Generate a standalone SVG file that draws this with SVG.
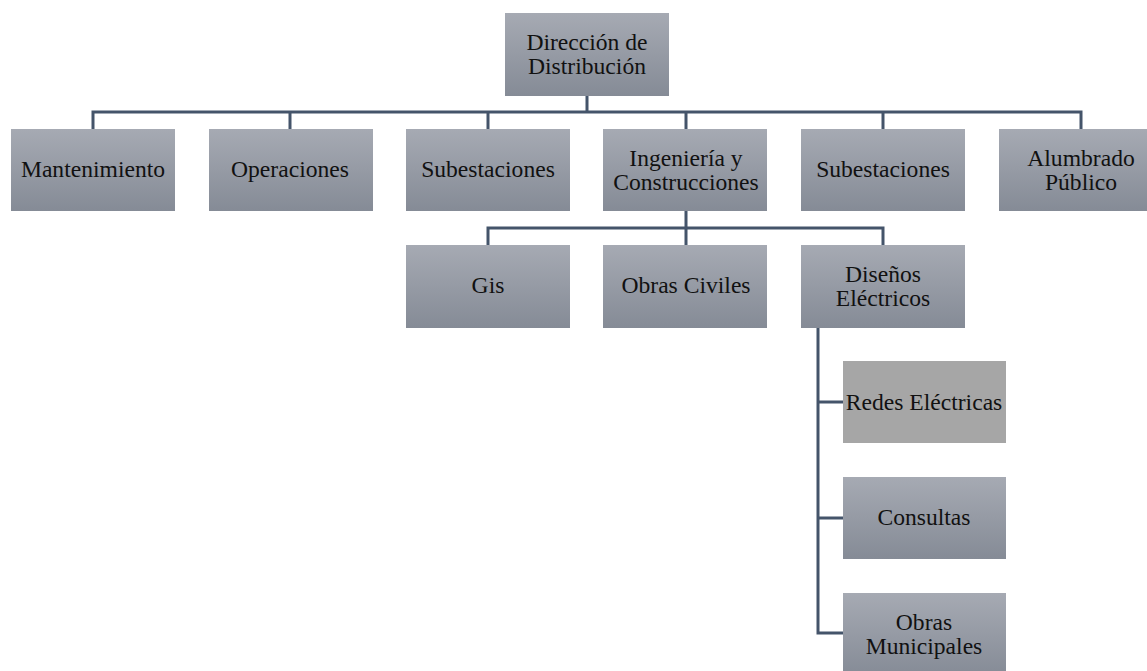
<svg xmlns="http://www.w3.org/2000/svg" width="1147" height="671" viewBox="0 0 1147 671">
<defs>
<linearGradient id="g" x1="0" y1="0" x2="0" y2="1">
<stop offset="0" stop-color="#a6aab3"/>
<stop offset="1" stop-color="#858b96"/>
</linearGradient>
<style>
.n{fill:url(#g);}
.f{fill:#a6a6a6;}
.t{font-family:'Liberation Serif','Times New Roman',serif;font-size:23.6px;fill:#111;text-anchor:middle;}
.c{fill:none;stroke:#44546a;stroke-width:3;}
</style>
</defs>
<rect width="1147" height="671" fill="#fff"/>
<g id="connectors">
<path class="c" d="M587 96V112M93 129V112H1081V129M290 112V129M488 112V129M686 112V129M883 112V129"/>
<path class="c" d="M686 211V228M488 245V228H883V245M686 228V245"/>
<path class="c" d="M818 328V633H843M818 402H843M818 518H843"/>
</g>
<g id="n0"><rect class="n" x="505" y="13" width="164" height="83"/><text class="t" x="587" y="50">Dirección de</text><text class="t" x="587" y="74">Distribución</text></g>
<g id="n1"><rect class="n" x="11" y="129" width="164" height="82"/><text class="t" x="93" y="177">Mantenimiento</text></g>
<g id="n2"><rect class="n" x="209" y="129" width="164" height="82"/><text class="t" x="290" y="177">Operaciones</text></g>
<g id="n3"><rect class="n" x="406" y="129" width="164" height="82"/><text class="t" x="488" y="177">Subestaciones</text></g>
<g id="n4"><rect class="n" x="603" y="129" width="164" height="82"/><text class="t" x="686" y="166">Ingeniería y</text><text class="t" x="686" y="190">Construcciones</text></g>
<g id="n5"><rect class="n" x="801" y="129" width="164" height="82"/><text class="t" x="883" y="177">Subestaciones</text></g>
<g id="n6"><rect class="n" x="999" y="129" width="164" height="82"/><text class="t" x="1081" y="166">Alumbrado</text><text class="t" x="1081" y="190">Público</text></g>
<g id="n7"><rect class="n" x="406" y="245" width="164" height="83"/><text class="t" x="488" y="293">Gis</text></g>
<g id="n8"><rect class="n" x="603" y="245" width="164" height="83"/><text class="t" x="686" y="293">Obras Civiles</text></g>
<g id="n9"><rect class="n" x="801" y="245" width="164" height="83"/><text class="t" x="883" y="282">Diseños</text><text class="t" x="883" y="306">Eléctricos</text></g>
<g id="n10"><rect class="f" x="843" y="361" width="163" height="82"/><text class="t" x="924" y="410">Redes Eléctricas</text></g>
<g id="n11"><rect class="n" x="843" y="477" width="163" height="82"/><text class="t" x="924" y="525">Consultas</text></g>
<g id="n12"><rect class="n" x="843" y="593" width="163" height="83"/><text class="t" x="924" y="630">Obras</text><text class="t" x="924" y="654">Municipales</text></g>
</svg>
